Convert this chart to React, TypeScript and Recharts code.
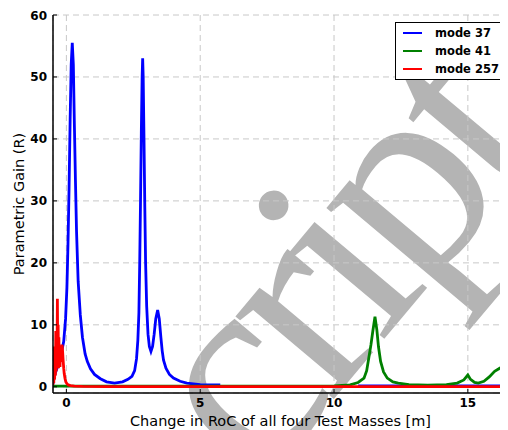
import React from 'react';
import { LineChart, Line, XAxis, YAxis, CartesianGrid, Legend } from 'recharts';

const FONT = '"DejaVu Sans", Verdana, sans-serif';

const xTicks = [0, 5, 10, 15];
const yTicks = [0, 10, 20, 30, 40, 50, 60];

// mode 37 (blue)
const mode37X = [
  -0.5, -0.45, -0.4, -0.3, -0.2, -0.1, -0.03, 0.02, 0.06, 0.1,
  0.14, 0.18, 0.22, 0.26, 0.3, 0.34, 0.38, 0.44, 0.52, 0.6,
  0.7, 0.78, 0.9, 1.05, 1.27, 1.5, 1.8, 2.1, 2.3, 2.45,
  2.55, 2.62, 2.67, 2.71, 2.74, 2.77, 2.8, 2.83, 2.85, 2.87,
  2.9, 2.93, 2.96, 3.0, 3.05, 3.1, 3.16, 3.22, 3.28, 3.34,
  3.41, 3.47, 3.53, 3.58, 3.63, 3.72, 3.85, 4.0, 4.25, 4.5,
  5.0, 5.4, 5.75, 6.0, 10.9, 12, 13, 14, 15, 16, 16.5,
];
const mode37Y = [
  0.5, 1.6, 2.4, 3.6, 5.2, 7.3, 11, 16, 23, 32,
  43, 52, 55.5, 52, 42, 33, 25, 17, 11.6, 8,
  5.3, 4.1, 2.9, 2, 1.3, 0.8, 0.6, 0.8, 1.2, 1.7,
  2.6, 4.5, 7.5, 12, 20, 30, 41, 50, 53, 50,
  40, 29, 20, 13, 8.5, 6.5, 5.7, 6.5, 8.5, 11,
  12.4, 11, 8, 5.8, 4.3, 3, 2, 1.4, 0.9, 0.6,
  0.35, 0.3, 0.3, null, 0.15, 0.15, 0.15, 0.15, 0.15, 0.15, 0.15,
];

// mode 41 (green)
const mode41X = [
  -0.5, 2, 5, 8, 10, 10.6, 10.9, 11.12, 11.22, 11.3,
  11.38, 11.45, 11.53, 11.6, 11.66, 11.74, 11.85, 11.99, 12.2, 12.4,
  12.8, 13.5, 14.2, 14.6, 14.85, 15.0, 15.1, 15.25, 15.39, 15.6,
  15.8, 16.0, 16.19, 16.35, 16.5,
];
const mode41Y = [
  0.1, 0.1, 0.1, 0.1, 0.15, 0.3, 0.7, 1.4, 2.6, 4.7,
  6.8, 9, 11.3, 9.2, 6.5, 4.1, 2.4, 1.4, 0.8, 0.6,
  0.35, 0.25, 0.35, 0.6, 1.1, 1.9, 1.2, 0.7, 0.6, 0.9,
  1.6, 2.5, 3.0, 2.5, 1.7,
];

// mode 257 (red)
const mode257X = [
  -0.5, -0.485, -0.47, -0.455, -0.44, -0.425, -0.41, -0.395, -0.38, -0.365,
  -0.35, -0.336, -0.322, -0.308, -0.294, -0.28, -0.266, -0.252, -0.238, -0.224,
  -0.21, -0.196, -0.182, -0.168, -0.154, -0.14, -0.12, -0.1, -0.08, -0.05,
  -0.02, 0.02, 0.07, 0.15, 0.3, 0.6, 1.5, 5, 10, 16.5,
];
const mode257Y = [
  0.3, 3, 0.6, 6.5, 1.2, 5, 1.8, 9, 2.5, 7,
  4, 14.2, 5, 10, 3, 8, 3.5, 6.5, 3.2, 5.8,
  4, 6.2, 5, 6.8, 6.5, 5.6, 4.2, 3, 2.1, 1.3,
  0.8, 0.5, 0.3, 0.18, 0.1, 0.06, 0.04, 0.03, 0.03, 0.03,
];

const toPoints = (xs: number[], ys: (number | null)[]) => xs.map((x, i) => ({ x, y: ys[i] }));

const series = [
  { name: 'mode 37', color: '#0000ff', data: toPoints(mode37X, mode37Y) },
  { name: 'mode 41', color: '#008000', data: toPoints(mode41X, mode41Y) },
  { name: 'mode 257', color: '#ff0000', data: toPoints(mode257X, mode257Y) },
];

function LegendBox({ payload }: any) {
  // keep plotting order (recharts sorts by name otherwise)
  const items = series
    .map((s) => (payload || []).find((p: any) => p.value === s.name))
    .filter(Boolean);
  return (
    <div
      style={{
        boxSizing: 'border-box',
        width: 107,
        height: 58,
        border: '1.5px solid #000',
        background: '#fff',
        padding: '1px 0 0 7px',
        fontFamily: FONT,
        fontSize: 11.5,
        fontWeight: 'bold',
        color: '#000',
      }}
    >
      {items.map((p: any) => (
        <div key={p.value} style={{ display: 'flex', alignItems: 'center', height: 18 }}>
          <span style={{ display: 'inline-block', width: 19, borderTop: `2.5px solid ${p.color}`, marginRight: 13 }} />
          <span>{p.value}</span>
        </div>
      ))}
    </div>
  );
}

function Watermark() {
  return (
    <svg
      width={508}
      height={430}
      style={{ position: 'absolute', left: -8, top: -8, zIndex: 0 }}
    >
      <text
        x={260}
        y={487}
        transform="rotate(-50 260 487)"
        fontFamily='"Liberation Serif", serif'
        fontSize={280}
        letterSpacing={-15}
        fill="#b4b4b4"
      >
        cript
      </text>
    </svg>
  );
}

const axisLine = { stroke: '#000', strokeWidth: 1.5 };
const tickStyle = { fill: '#000', fontSize: 12, fontWeight: 'bold', fontFamily: FONT };

export default function App() {
  return (
    <div style={{ position: 'relative', width: 500, height: 422 }}>
      <Watermark />
      <div style={{ position: 'relative', zIndex: 1 }}>
        <LineChart width={500} height={422} margin={{ top: 7, right: 0, bottom: 0, left: 0 }}>
          <CartesianGrid stroke="#c8c8c8" strokeDasharray="6 4" />
          <XAxis
            dataKey="x"
            type="number"
            domain={[-0.5, 16.5]}
            ticks={xTicks}
            allowDataOverflow
            height={37}
            axisLine={axisLine}
            tickLine={{ stroke: '#000' }}
            tickSize={-4}
            tickMargin={9}
            tick={tickStyle}
            label={{
              value: 'Change in RoC of all four Test Masses [m]',
              position: 'insideBottom',
              offset: 4,
              fill: '#000',
              fontSize: 14.5,
              fontFamily: FONT,
            }}
          />
          <XAxis
            xAxisId="top"
            orientation="top"
            dataKey="x"
            type="number"
            domain={[-0.5, 16.5]}
            ticks={xTicks}
            allowDataOverflow
            height={0}
            axisLine={axisLine}
            tickLine={{ stroke: '#000' }}
            tickSize={-4}
            tick={false}
          />
          <YAxis
            type="number"
            domain={[-1, 60]}
            ticks={yTicks}
            allowDataOverflow
            width={45}
            axisLine={axisLine}
            tickLine={{ stroke: '#000' }}
            tickSize={-4}
            tickMargin={10}
            tick={tickStyle}
            label={({ viewBox }: any) => (
              <text
                x={11}
                y={viewBox.y + viewBox.height / 2}
                transform={`rotate(-90 11 ${viewBox.y + viewBox.height / 2})`}
                textAnchor="middle"
                dominantBaseline="central"
                fontFamily={FONT}
                fontSize={14.5}
                fill="#000"
              >
                Parametric Gain (R)
              </text>
            )}
          />
          <YAxis
            yAxisId="right"
            orientation="right"
            type="number"
            domain={[-1, 60]}
            ticks={yTicks}
            allowDataOverflow
            width={0}
            axisLine={axisLine}
            tickLine={{ stroke: '#000' }}
            tickSize={-4}
            tick={false}
          />
          <Legend
            layout="vertical"
            align="center"
            verticalAlign="middle"
            wrapperStyle={{ top: 14, left: 387, width: 107, height: 58 }}
            content={(props: any) => <LegendBox payload={props.payload} />}
          />
          {series.map((s) => (
            <Line
              key={s.name}
              data={s.data}
              dataKey="y"
              name={s.name}
              type="linear"
              stroke={s.color}
              strokeWidth={2.8}
              dot={false}
              activeDot={false}
              isAnimationActive={false}
            />
          ))}
        </LineChart>
      </div>
    </div>
  );
}
